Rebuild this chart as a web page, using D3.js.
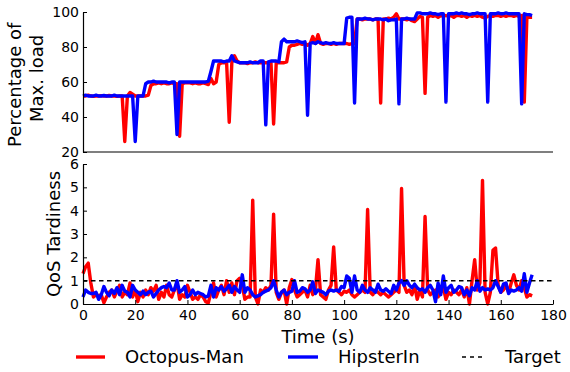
<!DOCTYPE html>
<html>
<head>
<meta charset="utf-8">
<script src="https://cdn.jsdelivr.net/npm/d3@7"></script>
<style>
  html, body { margin: 0; padding: 0; background: #fff; }
  svg { display: block; font-family: "DejaVu Sans", sans-serif; }
</style>
</head>
<body>
<svg id="chart" width="570" height="372"></svg>
<script>
// Load (percentage of max. load) per second, 0..172 s
const loadOctopus = [
  52,52,52.5,52,51.8,52,52,52.2,52,52,
  52.3,52,52,51.8,52,52,26,52,54,53,
  52,52,52,52,52,52.5,58,59,59,59.5,
  59,59.5,59,59,59.5,59,59,29,59,59.5,
  59.5,59.5,59,59.5,59,59,59.5,59,58.5,62,
  59,60,70,71,71,71,37,71,75,72,
  71,71,71,70.5,71,71,71.5,71,71,71,
  71,71,71,36,71,71,71,71,71.5,80,
  81,81,81.5,82,81.5,82,81,82,86,82,
  87,82,81.5,82,82,81.5,82,81.5,82,82,
  82,82,81.5,82,82,96,96,95.5,96,96,
  96,95.5,96,96,48,96,96,96.5,96,97,
  99,96,96,96,95.5,96,95,94.5,96,97.5,
  97,53.5,97,98,97.5,98,97,98,97.5,98,
  97.5,98,97,98,98,97.5,98,97,98,97.5,
  98,97.5,98,97,96.5,97.5,98,97.5,98,98,
  97.5,98,97.5,98,98,97.5,98,97.5,98,48.5,
  97,97,97
];
const loadHipster = [
  52,52.5,52,52,52,52.5,52,52,52.3,52,
  52,52,52.5,52,52,52,52,52,52,52,
  26,52,52,52,59,60,60,60.5,60,60,
  60,60,60,59.5,60,60,30,60,60,60,
  60,60,60,60,60,60,60,60,60.5,66,
  72,72,72,72,71.5,72,72,75,72,71.5,
  71,71,71,71,71.5,71,71,71,72,72,
  35.5,71.5,72,72,72,71.5,83,84.5,83,83,
  83,83,83.5,83,82.5,83,41,82,82.5,82,
  83,82.5,82,82.5,82,82,82.5,82,82,82,
  82,96.5,97,97,48,96,96,96,96.5,96,
  96,95.5,96,96,96,95.5,96,95,95.5,95.5,
  96,47.5,96,96,96.5,96,96,96,99.5,99.5,
  99,99,99,99.5,99,99,98.5,99,99,48.5,
  99,99,99,99.5,99,99.5,99,99,98.5,99,
  99,99.5,99,99,99,48.5,99,99,99,99.5,
  99,99,99.5,99,99,99,99,99,47.5,99,
  98.5,98.5,98
];

// QoS tardiness per second, 0..172 s
const tardOctopus = [
  1.3,1.6,1.75,0.9,0.3,0.4,0.35,0.4,0.05,0.3,
  0.5,0.6,0.3,0.55,0.8,0.3,0.5,0.4,0.9,0.3,
  0.6,0.1,0.5,0.3,0.6,0.4,0.7,0.55,0.8,0.2,
  0.5,0.3,0.8,0.4,0.3,0.6,0.9,0.2,0.4,0.3,
  0.8,0.5,0.2,0.3,0.2,0.4,0.3,0.1,0.05,0.5,
  0.9,0.3,0.6,0.8,0.4,1.0,0.5,0.9,0.4,1.0,
  1.1,0.8,0.2,0.3,0.3,4.45,0.3,0.0,0.6,0.5,
  0.7,0.6,0.8,3.85,0.5,0.2,0.5,0.6,0.0,0.7,
  1.05,0.6,0.3,0.4,0.5,0.6,0.3,0.8,0.4,0.6,
  1.9,0.4,0.3,0.2,0.6,0.8,2.45,0.6,0.5,0.4,
  0.55,0.5,0.6,0.4,0.3,0.4,0.5,0.6,0.5,4.05,
  0.5,0.4,0.6,0.5,0.4,0.5,0.4,0.3,0.4,0.5,
  0.6,0.5,4.95,0.8,0.5,0.6,0.4,0.8,0.2,0.6,
  0.3,3.75,0.6,0.4,0.5,0.6,0.3,0.5,0.7,0.2,
  0.5,0.4,0.6,0.5,0.4,0.6,0.3,0.7,0.0,1.0,
  1.9,0.6,0.9,5.3,0.5,0.0,0.5,2.3,2.4,0.8,
  0.5,0.6,0.8,0.5,0.9,1.25,0.8,0.6,1.0,0.7,
  0.3,0.4,0.35
];
const tardHipster = [
  0.3,0.6,0.5,0.45,0.45,0.5,0.2,0.4,0.75,0.5,
  0.35,0.6,0.45,0.7,0.4,0.8,0.55,0.5,0.3,0.8,
  0.6,0.5,0.4,0.55,0.4,0.5,0.55,0.3,0.45,0.6,
  0.7,0.75,0.7,0.9,0.6,0.6,1.0,0.5,0.6,0.75,
  0.3,0.4,0.6,0.4,0.5,0.45,0.4,0.3,0.35,0.8,
  0.3,0.7,0.6,0.75,0.55,0.65,0.8,0.5,0.75,0.6,
  0.5,1.25,0.5,0.7,0.6,0.4,0.3,0.35,0.4,0.5,
  0.55,0.6,0.7,1.0,0.6,0.3,0.5,0.6,0.4,0.5,
  0.55,1.0,0.5,0.55,0.7,0.65,0.5,0.6,0.95,0.45,
  0.6,0.55,0.5,0.4,0.55,0.6,0.55,0.6,0.55,0.75,
  0.7,1.2,1.1,0.5,1.2,0.6,0.5,0.8,0.6,0.5,
  0.7,0.6,0.5,0.85,0.6,0.55,0.65,0.55,0.45,0.8,
  0.6,0.9,1.0,0.8,1.0,0.8,0.7,0.85,0.7,0.6,
  0.65,0.5,0.7,0.8,0.6,0.1,0.9,0.4,1.2,0.5,
  0.7,0.8,0.5,0.6,0.75,0.7,0.4,0.6,0.35,0.7,
  0.6,1.0,0.55,0.7,0.6,0.65,0.6,0.7,1.0,0.75,
  0.5,0.85,0.9,0.45,0.6,0.55,0.6,0.7,0.55,1.3,
  0.5,0.9,1.25
];

const tardTarget = 1;
const timeTicks = [0, 20, 40, 60, 80, 100, 120, 140, 160, 180];
const loadTicks = [20, 40, 60, 80, 100];
const tardTicks = [0, 1, 2, 3, 4, 5, 6];
const legendLabels = ["Octopus-Man", "HipsterIn", "Target"];

const RED = "#ff0000", BLUE = "#0000ff";
const svg = d3.select("#chart");
const fmt = d3.format("d");

const left = 83, right = 553;
const x = d3.scaleLinear().domain([0, 180]).range([left, right]);
const yLoad = d3.scaleLinear().domain([20, 100]).range([152, 12]);
const yTard = d3.scaleLinear().domain([0, 6]).range([304, 164]);

function styleAxis(g) {
  g.selectAll("path.domain").attr("stroke", "#000").attr("stroke-width", 1.2);
  g.selectAll(".tick line").attr("stroke", "#000").attr("stroke-width", 1);
  g.selectAll(".tick text").attr("font-size", 14).attr("fill", "#000")
    .attr("font-family", "DejaVu Sans, sans-serif");
}

function drawSeries(g, yScale, values, color) {
  const line = d3.line().x((d, i) => x(i)).y(d => yScale(d));
  g.append("path").datum(values)
    .attr("fill", "none").attr("stroke", color)
    .attr("stroke-width", 3.4).attr("stroke-linejoin", "round")
    .attr("d", line);
}

// Upper panel: load
const gLoad = svg.append("g");
drawSeries(gLoad, yLoad, loadOctopus, RED);
drawSeries(gLoad, yLoad, loadHipster, BLUE);
gLoad.append("g").attr("transform", `translate(${left},0)`)
  .call(d3.axisLeft(yLoad).tickValues(loadTicks).tickFormat(fmt)
    .tickSizeInner(-4).tickSizeOuter(0).tickPadding(4))
  .call(styleAxis);
gLoad.append("line").attr("x1", left).attr("x2", right)
  .attr("y1", yLoad(20)).attr("y2", yLoad(20))
  .attr("stroke", "#000").attr("stroke-width", 1.2);

// Lower panel: QoS tardiness
const gTard = svg.append("g");
drawSeries(gTard, yTard, tardOctopus, RED);
drawSeries(gTard, yTard, tardHipster, BLUE);
gTard.append("line").attr("x1", left).attr("x2", right)
  .attr("y1", yTard(tardTarget)).attr("y2", yTard(tardTarget))
  .attr("stroke", "#000").attr("stroke-width", 1.5).attr("stroke-dasharray", "4.5,3.5");
gTard.append("g").attr("transform", `translate(${left},0)`)
  .call(d3.axisLeft(yTard).tickValues(tardTicks).tickFormat(fmt)
    .tickSizeInner(-4).tickSizeOuter(0).tickPadding(4))
  .call(styleAxis);
gTard.append("g").attr("transform", `translate(0,${yTard(0)})`)
  .call(d3.axisBottom(x).tickValues(timeTicks).tickFormat(fmt)
    .tickSizeInner(-4).tickSizeOuter(0).tickPadding(6))
  .call(styleAxis);

// Axis titles
svg.append("text").attr("x", (left + right) / 2).attr("y", 343)
  .attr("text-anchor", "middle").attr("font-size", 18).text("Time (s)");
svg.append("text").attr("transform", "translate(21,147) rotate(-90)")
  .attr("text-anchor", "start").attr("font-size", 18).text("Percentage of");
svg.append("text").attr("transform", "translate(43,122) rotate(-90)")
  .attr("text-anchor", "start").attr("font-size", 18).text("Max. load");
svg.append("text").attr("transform", `translate(60,${yTard(3)}) rotate(-90)`)
  .attr("text-anchor", "middle").attr("font-size", 18).text("QoS Tardiness");

// Legend
const legendItems = [
  { label: legendLabels[0], color: RED, dash: null, x0: 76, x1: 105, tx: 125 },
  { label: legendLabels[1], color: BLUE, dash: null, x0: 288, x1: 318, tx: 338 },
  { label: legendLabels[2], color: "#000", dash: "4,4", x0: 462, x1: 486, tx: 505 }
];
const lg = svg.append("g");
legendItems.forEach(it => {
  lg.append("line").attr("x1", it.x0).attr("x2", it.x1).attr("y1", 357).attr("y2", 357)
    .attr("stroke", it.color).attr("stroke-width", it.dash ? 1.5 : 3.4)
    .attr("stroke-dasharray", it.dash);
  lg.append("text").attr("x", it.tx).attr("y", 363).attr("font-size", 18).text(it.label);
});
</script>
</body>
</html>
